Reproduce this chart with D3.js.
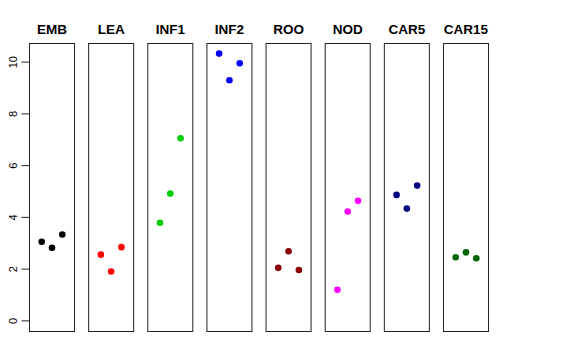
<!DOCTYPE html>
<html><head><meta charset="utf-8">
<script src="https://cdn.jsdelivr.net/npm/d3@7"></script>
<style>body{margin:0;background:#fff}svg{display:block}</style>
</head><body>
<script>
const categories = ["EMB","LEA","INF1","INF2","ROO","NOD","CAR5","CAR15"];
const colors = ["#000000","#FF0000","#00CD00","#0000FF","#8B0000","#FF00FF","#000080","#006400"];
const values = [
  [3.04, 2.81, 3.32],
  [2.54, 1.89, 2.83],
  [3.77, 4.90, 7.04],
  [10.31, 9.28, 9.94],
  [2.03, 2.67, 1.95],
  [1.18, 4.21, 4.62],
  [4.85, 4.32, 5.21],
  [2.44, 2.63, 2.40]
];
const yTicks = [0, 2, 4, 6, 8, 10];

(function(){
const W = 576, H = 360;
const svg = d3.select("body").append("svg").attr("width", W).attr("height", H);

const plotTop = 43, plotBottom = 331;
const y = d3.scaleLinear().domain([-0.41, 10.72]).range([plotBottom, plotTop]);
const x = d3.scaleBand().domain(categories).range([29, 488]).paddingInner(0.239).paddingOuter(0);

const panels = svg.selectAll("g.panel").data(categories).join("g").attr("class","panel")
  .attr("transform", d => `translate(${x(d)},0)`);

panels.append("rect")
  .attr("x", 0.5).attr("y", plotTop + 0.5)
  .attr("width", x.bandwidth()).attr("height", plotBottom - plotTop)
  .attr("fill", "none").attr("stroke", "#222").attr("stroke-width", 1);

panels.append("text")
  .attr("x", x.bandwidth()/2 + 0.5).attr("y", 33.5)
  .attr("text-anchor", "middle")
  .attr("font-family", "Liberation Sans, Arial, sans-serif")
  .attr("font-weight", "bold").attr("font-size", 13.5)
  .text(d => d);

const px = d3.scalePoint().domain([0,1,2]).range([x.bandwidth()/2 - 10.3, x.bandwidth()/2 + 10.3]);

panels.each(function(cat, i) {
  d3.select(this).selectAll("circle").data(values[i]).join("circle")
    .attr("cx", (d, j) => px(j) + 0.5)
    .attr("cy", d => y(d))
    .attr("r", 3.3)
    .attr("fill", colors[i]);
});

const axis = d3.axisLeft(y).tickValues(yTicks).tickSize(8).tickFormat(d3.format("d"));
const ag = svg.append("g").attr("transform", "translate(29.5,0)").call(axis);
ag.select(".domain").attr("d", `M0,${y(0)}V${y(10)}`).attr("stroke", "#222");
ag.selectAll(".tick line").attr("stroke", "#222");
ag.selectAll(".tick text")
  .attr("font-family", "Liberation Sans, Arial, sans-serif")
  .attr("font-size", 11)
  .attr("fill", "#000")
  .attr("text-anchor", "middle")
  .attr("dy", null)
  .attr("x", null)
  .attr("transform", "translate(-12.5,0) rotate(-90)");
})();
</script>
</body></html>
